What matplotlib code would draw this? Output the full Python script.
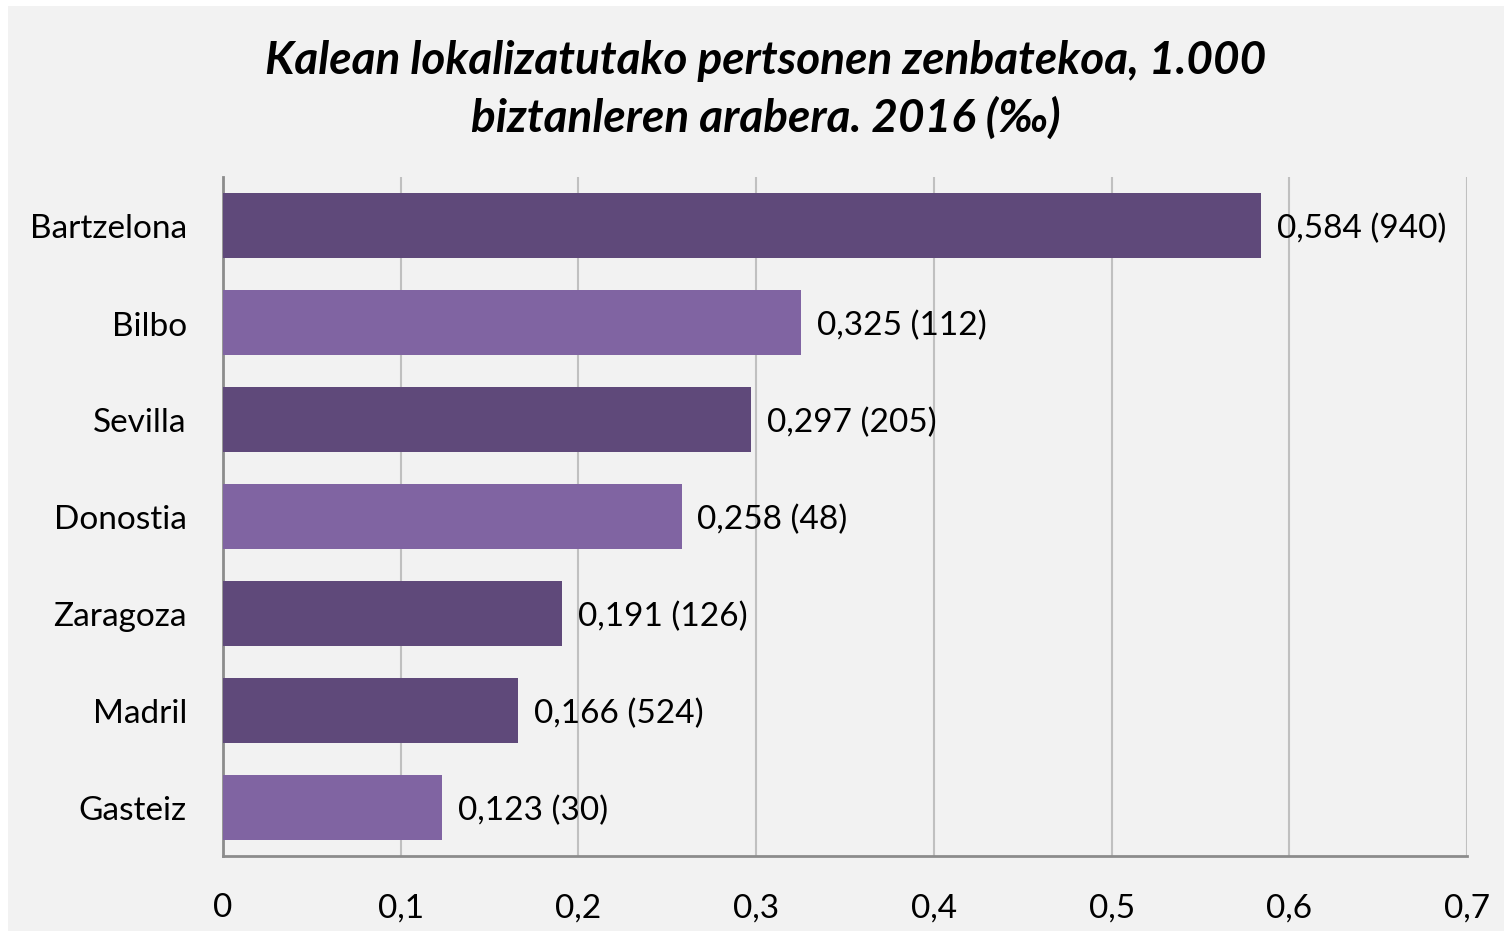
import matplotlib
matplotlib.use("Agg")
import matplotlib.pyplot as plt
from matplotlib.patches import Rectangle

categories = ["Bartzelona", "Bilbo", "Sevilla", "Donostia", "Zaragoza", "Madril", "Gasteiz"]
values = [0.584, 0.325, 0.297, 0.258, 0.191, 0.166, 0.123]
counts = [940, 112, 205, 48, 126, 524, 30]
is_basque = [False, True, False, True, False, False, True]
xticks = [0, 0.1, 0.2, 0.3, 0.4, 0.5, 0.6, 0.7]
title = "Kalean lokalizatutako pertsonen zenbatekoa, 1.000\nbiztanleren arabera. 2016 (‰)"

dark = "#5f497a"
light = "#8064a2"
bg = "#f2f2f2"
font = ["Lato", "DejaVu Sans"]
plt.rcParams["font.family"] = font

W, H = 1504, 937
fig = plt.figure(figsize=(W / 100, H / 100), dpi=100)
fig.patch.set_facecolor("white")
fig.patches.append(Rectangle((8 / W, 5 / H), 1 - 8 / W, 1 - 12 / H,
                             transform=fig.transFigure, facecolor=bg,
                             edgecolor="none", zorder=-10))

left, right = 223 / W, 1467 / W
bottom, top = 1 - 857 / H, 1 - 178 / H
ax = fig.add_axes([left, bottom, right - left, top - bottom])
ax.set_zorder(5)
ax.set_facecolor(bg)

n = len(categories)
ypos = list(range(n))
colors = [light if b else dark for b in is_basque]
ax.barh(ypos, values, height=0.68, color=colors, zorder=3)
ax.set_ylim(n - 0.5, -0.5)
ax.set_xlim(0, 0.7)
ax.set_xticks(xticks)
ax.set_xticklabels([f"{t:g}".replace(".", ",") for t in xticks], fontsize=24)
ax.set_yticks(ypos)
ax.set_yticklabels(categories, fontsize=24)
ax.tick_params(axis="both", length=0)
ax.tick_params(axis="x", pad=26)
ax.tick_params(axis="y", pad=26)

ax.grid(axis="x", color="#c0c0c0", linewidth=1.5, zorder=0)
ax.spines["top"].set_visible(False)
ax.spines["right"].set_visible(False)
for s in ["left", "bottom"]:
    ax.spines[s].set_color("#8c8c8c")
    ax.spines[s].set_linewidth(2)

for y, v, c in zip(ypos, values, counts):
    label = f"{v:.3f}".replace(".", ",") + f" ({c})"
    ax.text(v + 0.009, y + 0.03, label, va="center", ha="left", fontsize=24, zorder=4)

fig.text(0.509, 1 - 90 / H, title, ha="center", va="center", fontsize=33,
         fontweight="bold", fontstyle="italic", linespacing=1.42)

fig.savefig("out.png", dpi=100, facecolor=fig.get_facecolor())
